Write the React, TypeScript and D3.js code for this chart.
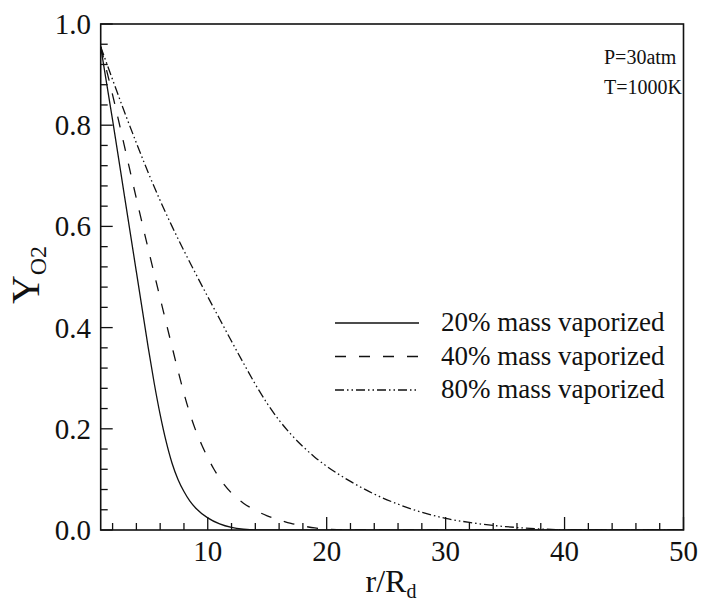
import React from "react";
import * as d3 from "d3";

// r/R_d positions and O2 mass fraction for each case
const x20 = [1, 2, 3, 4, 4.5, 5, 5.5, 6, 6.5, 7, 7.5, 8, 8.5, 9, 10, 11, 12, 13, 14, 20, 30, 40, 50];
const y20 = [0.955, 0.81, 0.66, 0.51, 0.435, 0.36, 0.29, 0.228, 0.175, 0.132, 0.1, 0.076, 0.057, 0.043, 0.024, 0.012, 0.005, 0.0015, 0, 0, 0, 0, 0];

const x40 = [1, 2, 3, 4, 5, 6, 7, 7.5, 8, 8.5, 9, 9.5, 10, 10.5, 11, 12, 13, 14, 15, 16, 17, 18, 19, 20, 22, 30, 40, 50];
const y40 = [0.955, 0.86, 0.758, 0.655, 0.555, 0.458, 0.362, 0.315, 0.27, 0.23, 0.196, 0.168, 0.143, 0.121, 0.102, 0.073, 0.053, 0.039, 0.028, 0.02, 0.013, 0.008, 0.004, 0.002, 0, 0, 0, 0];

const x80 = [1, 2, 3, 4, 5, 6, 7, 8, 9, 10, 11, 12, 13, 14, 15, 16, 17, 18, 19, 20, 22, 24, 26, 28, 30, 32, 34, 36, 38, 40, 42, 50];
const y80 = [0.955, 0.89, 0.826, 0.765, 0.706, 0.651, 0.6, 0.552, 0.506, 0.461, 0.417, 0.373, 0.33, 0.288, 0.25, 0.217, 0.189, 0.165, 0.144, 0.126, 0.096, 0.071, 0.051, 0.035, 0.023, 0.015, 0.009, 0.005, 0.002, 0.0005, 0, 0];

const seriesNames = ["20% mass vaporized", "40% mass vaporized", "80% mass vaporized"];
const seriesDash = ["none", "11,13", "9,3,1.5,3,1.5,3"];

const xMajorTicks = [10, 20, 30, 40, 50];
const xMinorTicks = d3.range(2, 50, 2);
const yMajorTicks = [0, 0.2, 0.4, 0.6, 0.8, 1.0];
const yMinorTicks = d3.range(0.04, 1.0, 0.04);

const annotations = ["P=30atm", "T=1000K"];

const FONT = '"Liberation Serif", "Times New Roman", Times, "DejaVu Serif", "Noto Serif", serif';

export default function App() {
  const W = 704, H = 609;
  const left = 100.7, right = 683.5, top = 24, bottom = 530;
  const x = d3.scaleLinear().domain([1, 50]).range([left, right]);
  const y = d3.scaleLinear().domain([0, 1]).range([bottom, top]);
  const line = d3
    .line<[number, number]>()
    .x((d) => x(d[0]))
    .y((d) => y(d[1]))
    .curve(d3.curveMonotoneX);

  const data: [number, number][][] = [
    x20.map((v, i) => [v, y20[i]] as [number, number]),
    x40.map((v, i) => [v, y40[i]] as [number, number]),
    x80.map((v, i) => [v, y80[i]] as [number, number]),
  ];

  const isMajorX = (t: number) => Math.abs(t % 10) < 1e-6;
  const isMajorY = (t: number) => Math.abs(Math.round(t * 5) - t * 5) < 1e-6;
  const ts = { fontFamily: FONT };

  return (
    <svg
      width={W}
      height={H}
      style={{ position: "absolute", left: 0, top: 0, background: "#fff", fontFamily: FONT }}
    >
      <defs>
        <clipPath id="plotclip">
          <rect x={left} y={top} width={right - left} height={bottom - top} />
        </clipPath>
      </defs>
      <rect x={0} y={0} width={W} height={H} fill="#fff" />
      {/* curves */}
      <g clipPath="url(#plotclip)">
        {data.map((d, i) => (
          <path
            key={i}
            d={line(d) || ""}
            fill="none"
            stroke="#111"
            strokeWidth={1.3}
            strokeDasharray={seriesDash[i]}
          />
        ))}
      </g>
      {/* frame */}
      <rect x={left} y={top} width={right - left} height={bottom - top} fill="none" stroke="#111" strokeWidth={1.6} />
      {/* x ticks */}
      {xMinorTicks.filter((t) => !isMajorX(t)).map((t) => (
        <line key={"xm" + t} x1={x(t)} x2={x(t)} y1={bottom} y2={bottom - 7} stroke="#111" strokeWidth={1.3} />
      ))}
      {xMajorTicks.map((t) => (
        <g key={"xM" + t}>
          <line x1={x(t)} x2={x(t)} y1={bottom} y2={bottom - 13} stroke="#111" strokeWidth={1.3} />
          <text x={x(t)} y={561} fontSize={29} textAnchor="middle" fill="#111" style={ts}>
            {t}
          </text>
        </g>
      ))}
      {/* y ticks */}
      {yMinorTicks.filter((t) => !isMajorY(t)).map((t) => (
        <line key={"ym" + t} x1={left} x2={left + 7} y1={y(t)} y2={y(t)} stroke="#111" strokeWidth={1.3} />
      ))}
      {yMajorTicks.map((t) => (
        <g key={"yM" + t}>
          <line x1={left} x2={left + 12} y1={y(t)} y2={y(t)} stroke="#111" strokeWidth={1.3} />
          <text x={91} y={y(t) + 10} fontSize={29} textAnchor="end" fill="#111" style={ts}>
            {t.toFixed(1)}
          </text>
        </g>
      ))}
      {/* axis titles */}
      <text x={391} y={592} fontSize={32} textAnchor="middle" fill="#111" style={ts}>
        r/R
        <tspan fontSize={20} dy={6}>d</tspan>
      </text>
      <text transform="translate(39,275) rotate(-90)" fontSize={40} textAnchor="middle" fill="#111" style={ts}>
        Y
        <tspan fontSize={24} dy={7}>O2</tspan>
      </text>
      {/* annotations */}
      {annotations.map((a, i) => (
        <text key={a} x={604} y={64 + i * 30} fontSize={20} fill="#111" style={ts}>
          {a}
        </text>
      ))}
      {/* legend */}
      {seriesNames.map((s, i) => {
        const ly = 323 + i * 33.5;
        return (
          <g key={s}>
            <line x1={335} x2={419} y1={ly} y2={ly} stroke="#111" strokeWidth={1.3} strokeDasharray={seriesDash[i]} />
            <text x={441} y={ly + 8} fontSize={27} fill="#111" style={ts}>
              {s}
            </text>
          </g>
        );
      })}
    </svg>
  );
}
